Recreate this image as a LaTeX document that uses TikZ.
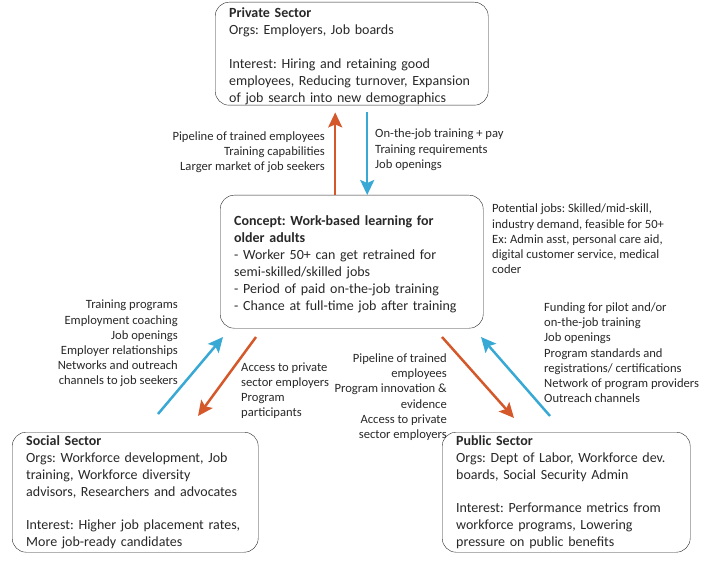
\documentclass[tikz,border=0pt]{standalone}
\usepackage{fontspec}
\setmainfont{Carlito}
\frenchspacing
\usetikzlibrary{arrows.meta,positioning}
\definecolor{txtgray}{RGB}{40,40,40}
\definecolor{arrorange}{RGB}{212,88,42}
\definecolor{arrblue}{RGB}{56,168,212}
\newcommand{\topstrut}{\rule{0pt}{15pt}}
\tikzset{
	sector/.style={draw=txtgray, rounded corners=14pt, align=left, inner xsep=14pt, inner ysep=0pt, text=txtgray, anchor=north west, font=\fontsize{14}{16.9}\selectfont},
	lbl/.style={text=txtgray, inner sep=0pt, font=\fontsize{12.6}{15.2}\selectfont},
	flow/.style={line width=2.5pt, -{Stealth[length=15pt,width=14pt,inset=3pt]}},
}

\begin{document}
\begin{tikzpicture}[x=1pt,y=-1pt]
	\useasboundingbox (0,0) rectangle (708,561);
	% the four boxes
	\node[sector, text width=245pt, minimum height=103pt] (private) at (215,2)
		{\topstrut\textbf{Private Sector}\\Orgs: Employers, Job boards\\[17.5pt]Interest: Hiring and retaining good\\employees, Reducing turnover, Expansion\\of job search into new demographics};
	\node[sector, text width=235pt, minimum height=133pt] (concept) at (220,195)
		{\topstrut\textbf{Concept: Work-based learning for}\\\textbf{older adults}\\- Worker 50+ can get retrained for\\semi-skilled/skilled jobs\\- Period of paid on-the-job training\\- Chance at full-time job after training};
	\node[sector, text width=218pt, minimum height=120pt] (social) at (12,432)
		{\textbf{Social Sector}\\Orgs: Workforce development, Job\\training, Workforce diversity\\advisors, Researchers and advocates\\[16pt]Interest: Higher job placement rates,\\More job-ready candidates};
	\node[sector, text width=220pt, minimum height=120pt] (public) at (442,432)
		{\textbf{Public Sector}\\Orgs: Dept of Labor, Workforce dev.\\boards, Social Security Admin\\[16pt]Interest: Performance metrics from\\workforce programs, Lowering\\pressure on public benefits};

	% labels
	\node[lbl, anchor=north east, align=right] (privL) at (325,131.5)
		{Pipeline of trained employees\\Training capabilities\\Larger market of job seekers};
	\node[lbl, anchor=north west, align=left] (privR) at (375,129)
		{On-the-job training + pay\\Training requirements\\Job openings};
	\node[lbl, anchor=north west, align=left] (jobs) at (492,204)
		{Potential jobs: Skilled/mid-skill,\\industry demand, feasible for 50+\\Ex: Admin asst, personal care aid,\\digital customer service, medical\\coder};
	\node[lbl, anchor=north east, align=right] (socL) at (178,300)
		{Training programs\\Employment coaching\\Job openings\\Employer relationships\\Networks and outreach\\channels to job seekers};
	\node[lbl, anchor=north west, align=left] (socR) at (241,362.5)
		{Access to private\\sector employers\\Program\\participants};
	\node[lbl, anchor=north east, align=right] (pubL) at (447,353.5)
		{Pipeline of trained\\employees\\Program innovation \&\\evidence\\Access to private\\sector employers};
	\node[lbl, anchor=north west, align=left] (pubR) at (544,302.5)
		{Funding for pilot and/or\\on-the-job training\\Job openings\\Program standards and\\registrations/ certifications\\Network of program providers\\Outreach channels};

	% arrows
	\coordinate (socA) at (158,414);
	\coordinate (socB) at (223,337);
	\coordinate (socC) at (256,337);
	\coordinate (socD) at (198,416);
	\coordinate (pubA) at (442,337);
	\coordinate (pubB) at (514,418);
	\coordinate (pubC) at (550,416);
	\coordinate (pubD) at (481,337);
	\draw[flow,arrorange] ([xshift=-16.5pt]concept.north) -- ([xshift=-16.5pt,yshift=-7pt]private.south);
	\draw[flow,arrblue] ([xshift=15.5pt,yshift=-7pt]private.south) -- ([xshift=15.5pt]concept.north);
	\draw[flow,arrblue] (socA) -- (socB);
	\draw[flow,arrorange] (socC) -- (socD);
	\draw[flow,arrorange] (pubA) -- (pubB);
	\draw[flow,arrblue] (pubC) -- (pubD);
\end{tikzpicture}
\end{document}
